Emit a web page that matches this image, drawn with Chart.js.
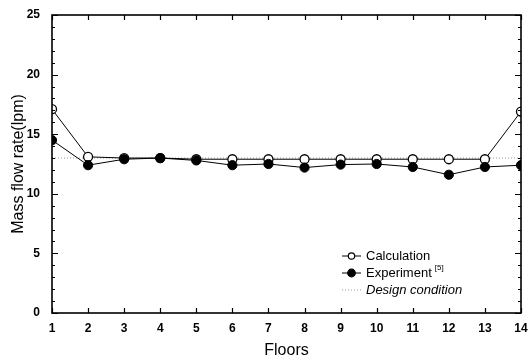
<!DOCTYPE html>
<html><head><meta charset="utf-8">
<script src="https://cdn.jsdelivr.net/npm/chart.js@4/dist/chart.umd.min.js"></script>
<style>html,body{margin:0;padding:0;background:#fff;}#wrap{width:530px;height:360px;position:relative;}</style>
</head><body><div id="wrap"><canvas id="c" width="530" height="360"></canvas></div>
<script>
const floors = [1,2,3,4,5,6,7,8,9,10,11,12,13,14];
const calculation = [17.1,13.1,13.0,13.0,12.9,12.9,12.9,12.9,12.9,12.9,12.9,12.9,12.9,16.9];
const experiment = [14.5,12.4,12.9,13.0,12.8,12.4,12.5,12.2,12.45,12.5,12.25,11.6,12.25,12.4];
const design = [13.0,13.0,13.0,13.0,13.0,13.0,13.0,13.0,13.0,13.0,13.0,13.0,13.0,13.0];
const yTicks = [0,5,10,15,20,25];

const FONT = "'Liberation Sans', Arial, sans-serif";
const toPts = arr => floors.map((f,i)=>({x:f,y:arr[i]}));

const frame = {
  id:'frame',
  afterDatasetsDraw(chart){
    const {ctx, chartArea:a, scales:{x,y}} = chart;
    ctx.save();
    ctx.strokeStyle='#000'; ctx.lineWidth=1.6;
    ctx.strokeRect(a.left, a.top, a.right-a.left, a.bottom-a.top);
    ctx.lineWidth=1.2;
    ctx.beginPath();
    floors.forEach(f=>{
      const px = Math.round(x.getPixelForValue(f))+0.5;
      ctx.moveTo(px,a.bottom); ctx.lineTo(px,a.bottom-5);
      ctx.moveTo(px,a.top); ctx.lineTo(px,a.top+5);
    });
    for(let v=0; v<=25; v++){
      const py = Math.round(y.getPixelForValue(v))+0.5;
      const len = v%5===0 ? 6 : 3;
      ctx.moveTo(a.left,py); ctx.lineTo(a.left+len,py);
      ctx.moveTo(a.right,py); ctx.lineTo(a.right-len,py);
    }
    ctx.stroke();
    // legend
    const ds = chart.data.datasets;
    const rows = [256, 273, 290];
    const x0 = 342, x1 = 361, tx = 366;
    ds.forEach((d,i)=>{
      const yy = rows[i];
      ctx.beginPath();
      ctx.strokeStyle = d.borderColor; ctx.lineWidth = d.borderWidth;
      ctx.setLineDash(d.borderDash || []);
      ctx.moveTo(x0,yy); ctx.lineTo(x1,yy); ctx.stroke();
      ctx.setLineDash([]);
      if(d.pointRadius>0){
        ctx.beginPath(); ctx.arc((x0+x1)/2, yy, i===0?3.2:3.8, 0, Math.PI*2);
        ctx.fillStyle = d.pointBackgroundColor; ctx.fill();
        ctx.lineWidth=1.2; ctx.strokeStyle='#000'; ctx.stroke();
      }
      ctx.fillStyle='#000'; ctx.textBaseline='middle'; ctx.textAlign='left';
      ctx.font = (i===2?'italic ':'') + '13px ' + FONT;
      ctx.fillText(d.label, tx, yy);
      if(i===1){
        const w = ctx.measureText(d.label).width;
        ctx.font = '8px ' + FONT;
        ctx.fillText('[5]', tx+w+3, yy-5);
      }
    });
    ctx.restore();
  }
};

new Chart(document.getElementById('c'), {
  type:'line',
  data:{ datasets:[
    {label:'Calculation', data:toPts(calculation), borderColor:'#000', borderWidth:1,
     pointRadius:4.5, pointBackgroundColor:'#fff', pointBorderColor:'#000', pointBorderWidth:1.3, order:1},
    {label:'Experiment', data:toPts(experiment), borderColor:'#000', borderWidth:1,
     pointRadius:4.6, pointBackgroundColor:'#000', pointBorderColor:'#000', pointBorderWidth:1, order:0},
    {label:'Design condition', data:toPts(design), borderColor:'#999', borderWidth:1, borderDash:[1,2],
     pointRadius:0, order:2}
  ]},
  options:{
    animation:false, responsive:false, devicePixelRatio:1,
    layout:{padding:{top:15,right:9,left:0,bottom:0}},
    plugins:{legend:{display:false}, tooltip:{enabled:false}},
    scales:{
      x:{type:'linear', min:1, max:14,
        grid:{display:false}, border:{display:false},
        afterFit(s){ s.height = 47; },
        ticks:{stepSize:1, color:'#000', padding:0, font:{family:FONT,size:12,weight:'bold'}, maxRotation:0},
        title:{display:true, text:'Floors', color:'#000', font:{family:FONT,size:16}, padding:{top:2,bottom:0}}
      },
      y:{min:0, max:25,
        grid:{display:false}, border:{display:false},
        afterFit(s){ s.width = 52; },
        afterBuildTicks(s){ s.ticks = yTicks.map(v=>({value:v})); },
        ticks:{color:'#000', padding:4, font:{family:FONT,size:12,weight:'bold'}},
        title:{display:true, text:'Mass flow rate(lpm)', color:'#000', font:{family:FONT,size:16}, padding:{top:9,bottom:0}}
      }
    }
  },
  plugins:[frame]
});
</script></body></html>
